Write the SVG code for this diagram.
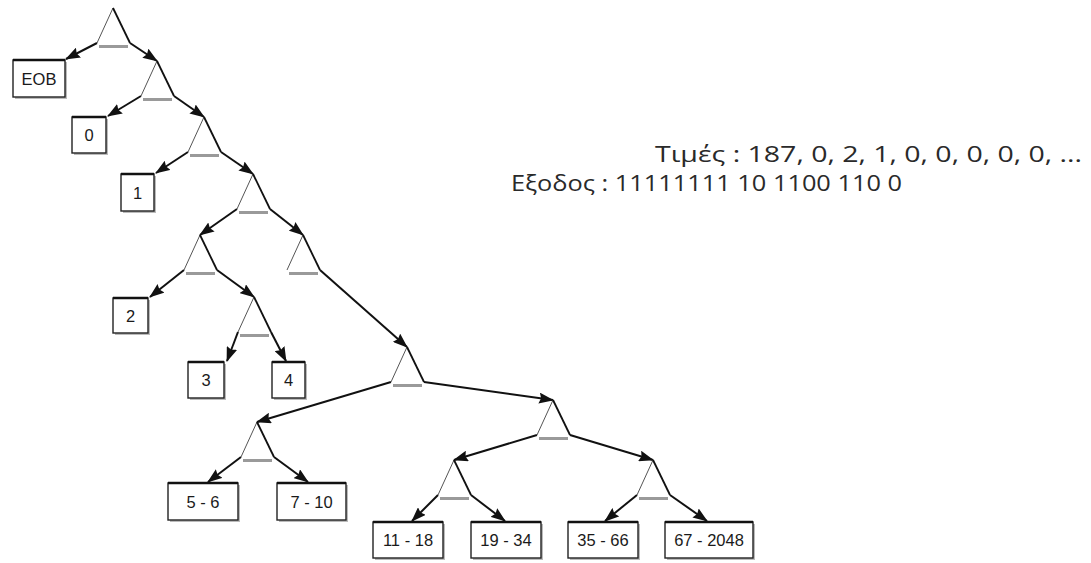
<svg xmlns="http://www.w3.org/2000/svg" xmlns:xlink="http://www.w3.org/1999/xlink" width="1091" height="563" viewBox="0 0 1091 563">
<style>
.box{fill:#fff;stroke:#222;stroke-width:1.4}
.boxtop{stroke:#111;stroke-width:2.4}
.shadow{fill:#bbb}
.lbl{font-family:"Liberation Sans",Arial,sans-serif;font-size:16.5px;fill:#1a1a1a;text-anchor:middle}
.conn{fill:none;stroke:#111;stroke-width:2}
.info{font-family:"Open Sans","Liberation Sans",sans-serif;font-size:21px;fill:#2a2a2a}
</style>
<defs>
<marker id="ah" viewBox="0 0 15 11" refX="14" refY="5.5" markerWidth="15" markerHeight="11" orient="auto" markerUnits="userSpaceOnUse">
<path d="M0,0 L15,5.5 L0,11 L2,5.5 z" fill="#111"/>
</marker>
<g id="tri">
<line x1="-14" y1="38.5" x2="15" y2="38.5" stroke="#9a9a9a" stroke-width="3"/>
<line x1="0" y1="0" x2="-16" y2="35" stroke="#555" stroke-width="1"/>
<line x1="0" y1="0" x2="17" y2="35" stroke="#111" stroke-width="1.8"/>
</g>
</defs>
<rect width="1091" height="563" fill="#fff"/>

<g id="connectors">
<line class="conn" x1="97" y1="43" x2="66" y2="59" marker-end="url(#ah)"/>
<line class="conn" x1="130" y1="43" x2="157" y2="61" marker-end="url(#ah)"/>
<line class="conn" x1="141" y1="96" x2="108" y2="116" marker-end="url(#ah)"/>
<line class="conn" x1="174" y1="96" x2="204" y2="117" marker-end="url(#ah)"/>
<line class="conn" x1="188" y1="152" x2="156" y2="173" marker-end="url(#ah)"/>
<line class="conn" x1="221" y1="152" x2="253" y2="174" marker-end="url(#ah)"/>
<line class="conn" x1="237" y1="209" x2="200" y2="235" marker-end="url(#ah)"/>
<line class="conn" x1="270" y1="209" x2="303" y2="235" marker-end="url(#ah)"/>
<line class="conn" x1="184" y1="270" x2="150" y2="297" marker-end="url(#ah)"/>
<line class="conn" x1="217" y1="270" x2="254" y2="297" marker-end="url(#ah)"/>
<line class="conn" x1="238" y1="332" x2="227" y2="361" marker-end="url(#ah)"/>
<line class="conn" x1="271" y1="332" x2="286" y2="361" marker-end="url(#ah)"/>
<line class="conn" x1="320" y1="270" x2="407" y2="347" marker-end="url(#ah)"/>
<line class="conn" x1="391" y1="382" x2="257" y2="422" marker-end="url(#ah)"/>
<line class="conn" x1="424" y1="382" x2="553" y2="400" marker-end="url(#ah)"/>
<line class="conn" x1="241" y1="457" x2="208" y2="482" marker-end="url(#ah)"/>
<line class="conn" x1="274" y1="457" x2="308" y2="482" marker-end="url(#ah)"/>
<line class="conn" x1="537" y1="435" x2="454" y2="460" marker-end="url(#ah)"/>
<line class="conn" x1="570" y1="435" x2="653" y2="460" marker-end="url(#ah)"/>
<line class="conn" x1="438" y1="495" x2="412" y2="521" marker-end="url(#ah)"/>
<line class="conn" x1="471" y1="495" x2="505" y2="521" marker-end="url(#ah)"/>
<line class="conn" x1="637" y1="495" x2="605" y2="521" marker-end="url(#ah)"/>
<line class="conn" x1="670" y1="495" x2="707" y2="521" marker-end="url(#ah)"/>
</g>

<g id="t1" transform="translate(113,8)"><use xlink:href="#tri"/></g>
<g id="t2" transform="translate(157,61)"><use xlink:href="#tri"/></g>
<g id="t3" transform="translate(204,117)"><use xlink:href="#tri"/></g>
<g id="t4" transform="translate(253,174)"><use xlink:href="#tri"/></g>
<g id="t5" transform="translate(200,235)"><use xlink:href="#tri"/></g>
<g id="t6" transform="translate(303,235)"><use xlink:href="#tri"/></g>
<g id="t7" transform="translate(254,297)"><use xlink:href="#tri"/></g>
<g id="t8" transform="translate(407,347)"><use xlink:href="#tri"/></g>
<g id="t9" transform="translate(257,422)"><use xlink:href="#tri"/></g>
<g id="t10" transform="translate(553,400)"><use xlink:href="#tri"/></g>
<g id="t11" transform="translate(454,460)"><use xlink:href="#tri"/></g>
<g id="t12" transform="translate(653,460)"><use xlink:href="#tri"/></g>

<g id="b-eob"><rect class="shadow" x="15" y="62" width="52" height="37"/><rect class="box" x="13" y="60" width="52" height="37"/><line class="boxtop" x1="13" y1="60" x2="65" y2="60"/><text class="lbl" x="39" y="84.5">EOB</text></g>
<g id="b-0"><rect class="shadow" x="74" y="119" width="34" height="36"/><rect class="box" x="72" y="117" width="34" height="36"/><line class="boxtop" x1="72" y1="117" x2="106" y2="117"/><text class="lbl" x="89" y="141">0</text></g>
<g id="b-1"><rect class="shadow" x="123" y="176" width="33" height="37"/><rect class="box" x="121" y="174" width="33" height="37"/><line class="boxtop" x1="121" y1="174" x2="154" y2="174"/><text class="lbl" x="137.5" y="198.5">1</text></g>
<g id="b-2"><rect class="shadow" x="115" y="300" width="35" height="35"/><rect class="box" x="113" y="298" width="35" height="35"/><line class="boxtop" x1="113" y1="298" x2="148" y2="298"/><text class="lbl" x="130.5" y="321.5">2</text></g>
<g id="b-3"><rect class="shadow" x="190" y="364" width="36" height="36"/><rect class="box" x="188" y="362" width="36" height="36"/><line class="boxtop" x1="188" y1="362" x2="224" y2="362"/><text class="lbl" x="206" y="386">3</text></g>
<g id="b-4"><rect class="shadow" x="274" y="364" width="33" height="36"/><rect class="box" x="272" y="362" width="33" height="36"/><line class="boxtop" x1="272" y1="362" x2="305" y2="362"/><text class="lbl" x="288.5" y="386">4</text></g>
<g id="b-5-6"><rect class="shadow" x="170" y="485" width="70" height="37"/><rect class="box" x="168" y="483" width="70" height="37"/><line class="boxtop" x1="168" y1="483" x2="238" y2="483"/><text class="lbl" x="203" y="507.5">5 - 6</text></g>
<g id="b-7-10"><rect class="shadow" x="279" y="485" width="69" height="37"/><rect class="box" x="277" y="483" width="69" height="37"/><line class="boxtop" x1="277" y1="483" x2="346" y2="483"/><text class="lbl" x="311.5" y="507.5">7 - 10</text></g>
<g id="b-11-18"><rect class="shadow" x="375" y="524" width="70" height="36"/><rect class="box" x="373" y="522" width="70" height="36"/><line class="boxtop" x1="373" y1="522" x2="443" y2="522"/><text class="lbl" x="408" y="546">11 - 18</text></g>
<g id="b-19-34"><rect class="shadow" x="473" y="524" width="70" height="36"/><rect class="box" x="471" y="522" width="70" height="36"/><line class="boxtop" x1="471" y1="522" x2="541" y2="522"/><text class="lbl" x="506" y="546">19 - 34</text></g>
<g id="b-35-66"><rect class="shadow" x="570" y="524" width="70" height="36"/><rect class="box" x="568" y="522" width="70" height="36"/><line class="boxtop" x1="568" y1="522" x2="638" y2="522"/><text class="lbl" x="603" y="546">35 - 66</text></g>
<g id="b-67-2048"><rect class="shadow" x="667" y="524" width="88" height="36"/><rect class="box" x="665" y="522" width="88" height="36"/><line class="boxtop" x1="665" y1="522" x2="753" y2="522"/><text class="lbl" x="709" y="546">67 - 2048</text></g>

<g id="info">
<text class="info" x="655" y="162" textLength="427" lengthAdjust="spacingAndGlyphs">Τιμές : 187, 0, 2, 1, 0, 0, 0, 0, 0, ...</text>
<text class="info" x="511" y="191" textLength="391" lengthAdjust="spacingAndGlyphs">Εξοδος : 11111111 10 1100 110 0</text>
</g>
</svg>
